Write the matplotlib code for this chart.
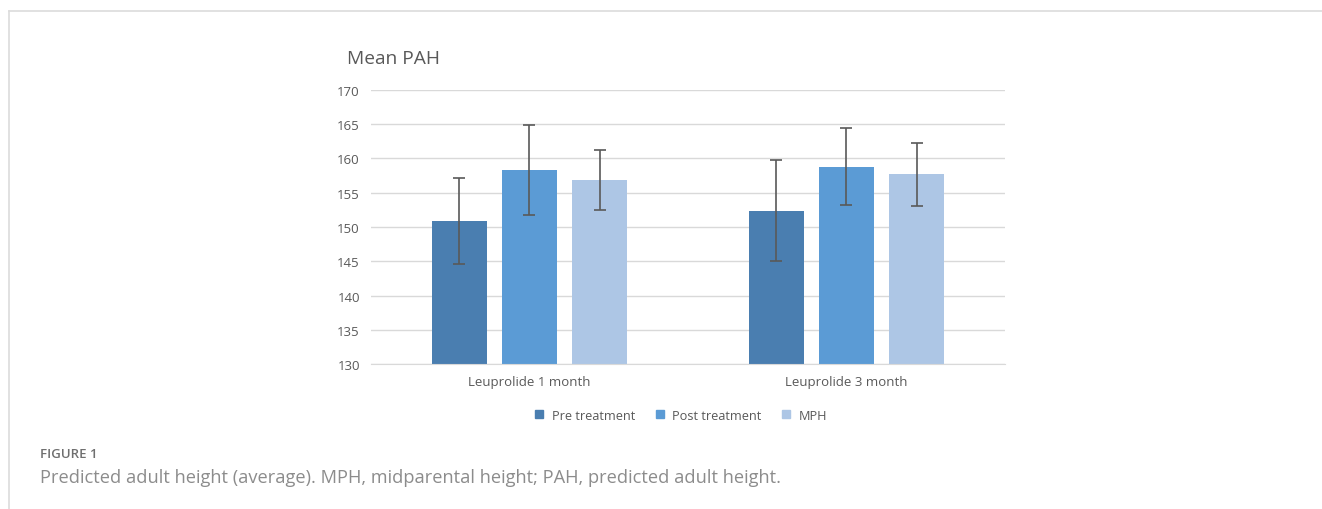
import numpy as np
from matplotlib import pyplot as plt
from matplotlib.lines import Line2D

groups = ['Leuprolide 1 month', 'Leuprolide 3 month']
series = ['Pre treatment', 'Post treatment', 'MPH']
pre = [150.9, 152.4]
post = [158.3, 158.8]
mph = [156.9, 157.7]
pre_err = [6.3, 7.4]
post_err = [6.6, 5.6]
mph_err = [4.4, 4.6]
colors = ['#4a7eb0', '#5b9bd5', '#adc6e5']
yticks = [130, 135, 140, 145, 150, 155, 160, 165, 170]

plt.rcParams['font.family'] = ['Open Sans', 'DejaVu Sans']

fig = plt.figure(figsize=(13.22, 5.10), dpi=100)
ax = fig.add_axes([0.2806, 0.2843, 0.4796, 0.5373])

x = np.arange(len(groups))
width = 0.1735
step = 0.222
for i, (vals, errs) in enumerate([(pre, pre_err), (post, post_err), (mph, mph_err)]):
    pos = x + (i - 1) * step
    ax.bar(pos, np.array(vals) - 130, width, bottom=130, color=colors[i],
           label=series[i], zorder=2)
    ax.errorbar(pos, vals, yerr=errs, fmt='none', ecolor='#595959',
                elinewidth=1.2, capsize=4, capthick=1.2, zorder=3)

ax.set_xlim(-0.5, 1.5)
ax.set_ylim(130, 170)
ax.set_yticks(yticks)
ax.set_xticks(x)
ax.set_xticklabels(groups)
ax.grid(axis='y', color='#d9d9d9', linewidth=1, zorder=0)
for s in ['top', 'right', 'left']:
    ax.spines[s].set_visible(False)
ax.spines['bottom'].set_color('#d9d9d9')
ax.tick_params(axis='both', length=0, labelsize=9.5, labelcolor='#595959', pad=8)

fig.text(0.2625, 0.885, 'Mean PAH', fontsize=13.8, color='#595959', va='center')

handles = [Line2D([], [], marker='s', linestyle='none', markersize=6,
                  color=c) for c in colors]
fig.legend(handles, series, loc='center', bbox_to_anchor=(0.512, 0.184), ncol=3,
           frameon=False, fontsize=9.2, handletextpad=0.0, columnspacing=0.9,
           labelcolor='#595959')

# page frame lines
fig.add_artist(Line2D([9 / 1322, 1], [1 - 12 / 510] * 2, color='#dcdcdc', lw=1.2))
fig.add_artist(Line2D([9 / 1322] * 2, [0, 1 - 12 / 510], color='#dcdcdc', lw=1.2))

fig.text(40 / 1322, 1 - 455 / 510, 'FIGURE 1', fontsize=9.5, color='#6f6f6f',
         va='center', fontweight='semibold')
fig.text(40 / 1322, 1 - 478 / 510,
         'Predicted adult height (average). MPH, midparental height; PAH, predicted adult height.',
         fontsize=13.15, color='#8c8c8c', va='center')

fig.savefig('out.png', dpi=100)
